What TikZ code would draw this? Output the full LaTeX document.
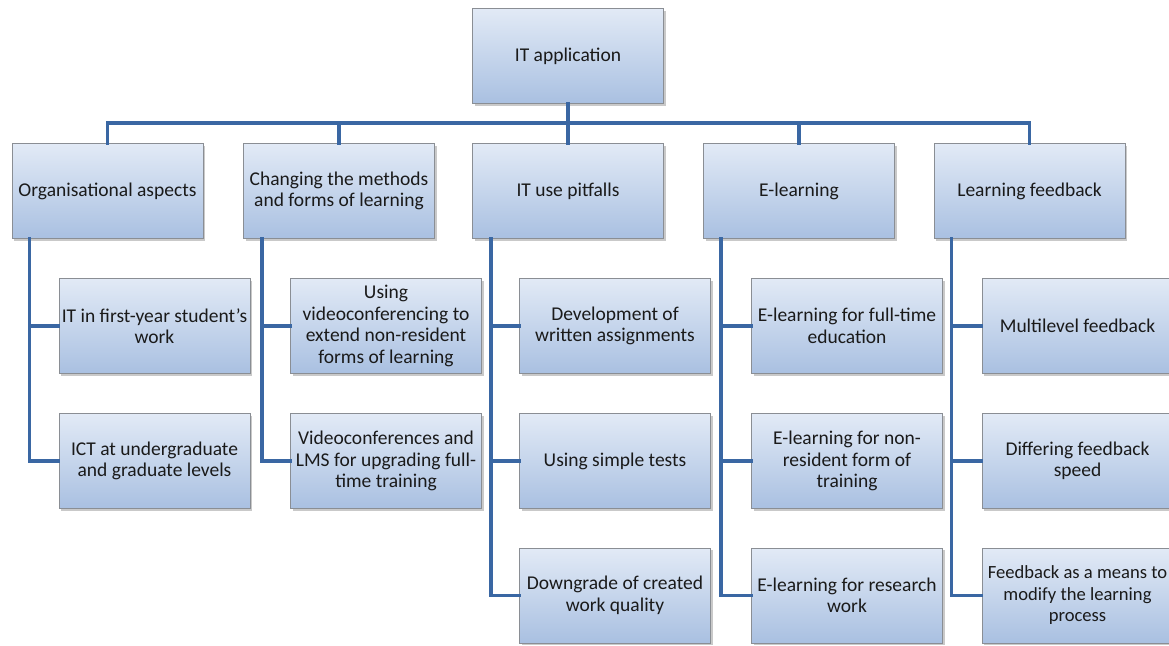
\documentclass[tikz,border=0pt]{standalone}
\usepackage{fontspec}
\setmainfont{Carlito}
\usetikzlibrary{shadows,calc}
\definecolor{linkblue}{HTML}{3A67A3}
\definecolor{boxtop}{HTML}{E2EAF6}
\definecolor{boxbot}{HTML}{A9C0E1}
\definecolor{boxedge}{HTML}{8A8E94}
\definecolor{txt}{HTML}{1A1A1A}
\tikzset{
  box/.style={draw=boxedge, line width=0.8pt, top color=boxtop, bottom color=boxbot,
    minimum width=191pt, minimum height=95pt, inner sep=1pt, align=center,
    text=txt, font=\fontsize{19.5}{21.5}\selectfont,
    drop shadow={shadow xshift=2pt, shadow yshift=-2pt, opacity=0.35, fill=black!60}},
  link/.style={draw=linkblue, line width=3.6pt, line join=miter, line cap=rect}
}
\begin{document}
\begin{tikzpicture}[x=1pt,y=-1pt]
\clip (0,0) rectangle (1169,645);
\fill[white] (0,0) rectangle (1169,645);
% root and first level
\node[box] (root) at (568,56) {IT application};
\node[box] (o) at (107.5,191) {Organisational aspects};
\node[box] (c) at (339,191) {Changing the methods\\and forms of learning};
\node[box] (p) at (568,191) {IT use pitfalls};
\node[box] (e) at (799,191) {E-learning};
\node[box] (f) at (1029.5,191) {Learning feedback};
% second level
\node[box] (o1) at (154.5,326) {IT in first-year student’s\\work};
\node[box] (o2) at (154.5,461) {ICT at undergraduate\\and graduate levels};
\node[box] (c1) at (386,326) {Using\\videoconferencing to\\extend non-resident\\forms of learning};
\node[box] (c2) at (386,461) {Videoconferences and\\LMS for upgrading full-\\time training};
\node[box] (p1) at (615,326) {Development of\\written assignments};
\node[box] (p2) at (615,461) {Using simple tests};
\node[box] (p3) at (615,595.5) {Downgrade of created\\work quality};
\node[box] (e1) at (847,326) {E-learning for full-time\\education};
\node[box] (e2) at (847,461) {E-learning for non-\\resident form of\\training};
\node[box] (e3) at (847,595.5) {E-learning for research\\work};
\node[box] (f1) at (1077.5,326) {Multilevel feedback};
\node[box] (f2) at (1077.5,461) {Differing feedback\\speed};
\node[box, font=\fontsize{18.6}{21.5}\selectfont] (f3) at (1077.5,595.5) {Feedback as a means to\\modify the learning\\process};
% bus
\coordinate (bus) at (568,123);
\draw[link] (root.south) -- (bus);
\draw[link] (o.north) |- (bus) -| (f.north);
\draw[link] (c.north) |- (bus);
\draw[link] (p.north) -- (bus);
\draw[link] (e.north) |- (bus);
% children
\draw[link] ($(o.south west)+(18,0)$) |- (o2.west);
\draw[link] ($(o.south west)+(18,0)$) |- (o1.west);
\draw[link] ($(c.south west)+(19,0)$) |- (c2.west);
\draw[link] ($(c.south west)+(19,0)$) |- (c1.west);
\draw[link] ($(p.south west)+(19,0)$) |- (p3.west);
\draw[link] ($(p.south west)+(19,0)$) |- (p2.west);
\draw[link] ($(p.south west)+(19,0)$) |- (p1.west);
\draw[link] ($(e.south west)+(18,0)$) |- (e3.west);
\draw[link] ($(e.south west)+(18,0)$) |- (e2.west);
\draw[link] ($(e.south west)+(18,0)$) |- (e1.west);
\draw[link] ($(f.south west)+(18,0)$) |- (f3.west);
\draw[link] ($(f.south west)+(18,0)$) |- (f2.west);
\draw[link] ($(f.south west)+(18,0)$) |- (f1.west);
\end{tikzpicture}
\end{document}
